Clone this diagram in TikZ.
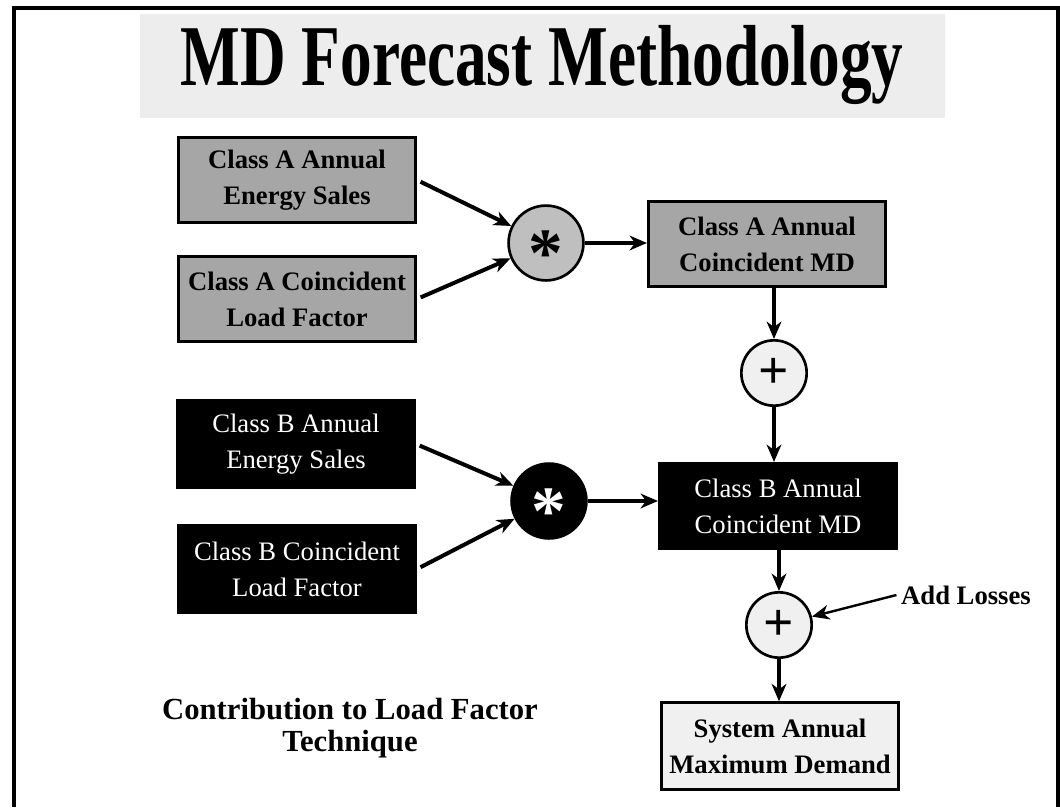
\documentclass[tikz,border=0pt]{standalone}
\usepackage{fontspec}
\setmainfont{Liberation Serif}
\usetikzlibrary{arrows.meta}

\begin{document}
\begin{tikzpicture}[x=0.75pt,y=-0.75pt,
	abox/.style={draw,line width=2pt,fill=black!35,minimum width=178pt,minimum height=64pt,align=center,font=\fontsize{20}{27}\selectfont\bfseries},
	bbox/.style={draw,line width=2pt,fill=black,text=white,minimum width=178pt,minimum height=65pt,align=center,font=\fontsize{20}{27}\selectfont},
	opnode/.style={circle,draw,line width=2pt,minimum size=49pt,inner sep=0pt},
	mulnode/.style={opnode,font=\fontsize{52}{52}\selectfont\bfseries,text height=50pt,text depth=0pt},
	addnode/.style={opnode,fill=black!6,font=\fontsize{40}{40}\selectfont\bfseries},
	flow/.style={line width=3pt,-{Stealth[length=13pt,width=11pt,inset=4pt]}}]
	\useasboundingbox (0,0) rectangle (1060,807);
	\draw[line width=3pt] (14,807) -- (14,8) -- (1058,8) -- (1058,807);
	\fill[black!7] (140,14) rectangle (945,118);
	\node[anchor=base] (title) at (542,85) {\scalebox{0.73}[1]{\fontsize{65}{70}\selectfont\bfseries MD Forecast Methodology}};

	\node[abox] (a1) at (297,180) {Class A Annual\\Energy Sales};
	\node[abox] (a2) at (297,299) {Class A Coincident\\Load Factor};
	\node[mulnode,fill=black!25] (mulA) at (546,243) {*};
	\node[abox] (a3) at (767,244) {Class A Annual\\Coincident MD};
	\node[addnode] (addA) at (774,373) {+};

	\node[bbox] (b1) at (296,444) {Class B Annual\\Energy Sales};
	\node[bbox] (b2) at (297,569) {Class B Coincident\\Load Factor};
	\node[mulnode,fill=black,text=white] (mulB) at (549,501) {*};
	\node[bbox,minimum height=64pt] (b3) at (778,506) {Class B Annual\\Coincident MD};
	\node[addnode] (addB) at (779,625) {+};
	\node[font=\fontsize{20}{24}\selectfont\bfseries] (losses) at (966,595) {Add Losses};
	\node[abox,fill=black!6,minimum height=65pt] (sys) at (780,746) {System Annual\\Maximum Demand};

	\node[align=center,font=\fontsize{23}{24}\selectfont\bfseries] (method) at (350,728) {Contribution to Load Factor\\Technique};

	\draw[flow,shorten <=3pt] (a1.east) -- (mulA);
	\draw[flow,shorten <=3pt] (a2.east) -- (mulA);
	\draw[flow] (mulA.east) -- (mulA.east -| a3.west);
	\draw[flow] (a3.south -| addA) -- (addA);
	\draw[flow] (addA) -- (b3.north -| addA);
	\draw[flow,shorten <=3pt] (b1.east) -- (mulB);
	\draw[flow,shorten <=3pt] (b2.east) -- (mulB);
	\draw[flow] (mulB.east) -- (mulB.east -| b3.west);
	\draw[flow] (b3.south -| addB) -- (addB);
	\draw[flow] (addB) -- (sys.north -| addB);
	\draw[flow,line width=1.8pt] (losses.west) -- (addB);
\end{tikzpicture}
\end{document}
